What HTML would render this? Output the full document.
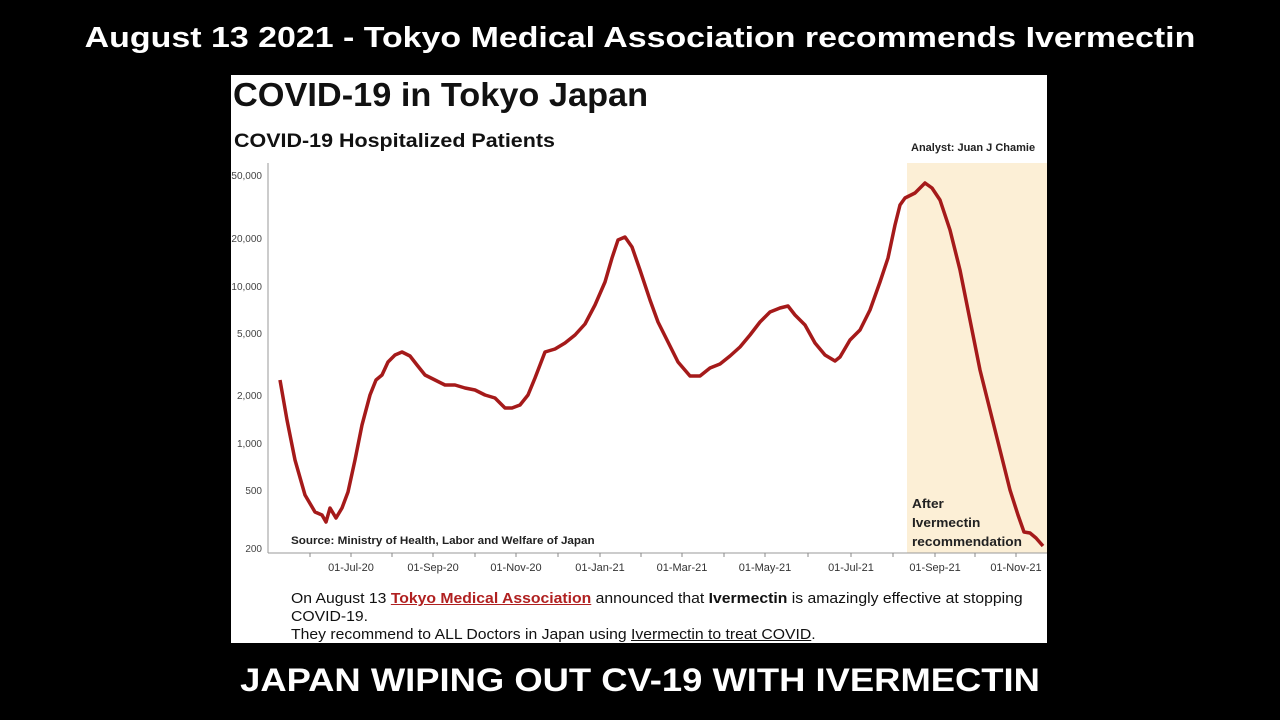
<!DOCTYPE html>
<html><head><meta charset="utf-8"><style>
body{margin:0;width:1280px;height:720px;background:#000;overflow:hidden;font-family:"Liberation Sans",sans-serif;position:relative}
.t{position:absolute;white-space:nowrap}
</style></head><body>
<div class="t" style="left:0;width:1280px;text-align:center;top:22px;color:#fff;font-weight:bold;font-size:29px;transform:scaleX(1.17);transform-origin:640px 0">August 13 2021 - Tokyo Medical Association recommends Ivermectin</div>
<div style="position:absolute;left:231px;top:75px;width:816px;height:568px;background:#fff"></div>
<svg width="1280" height="720" style="position:absolute;left:0;top:0">
<rect x="907" y="163" width="140" height="390" fill="#fcefd6"/>
<line x1="268" y1="163" x2="268" y2="553" stroke="#999" stroke-width="1"/>
<line x1="268" y1="553" x2="1047" y2="553" stroke="#999" stroke-width="1"/>
<g stroke="#888" stroke-width="1">
<line x1="310" y1="553" x2="310" y2="557"/><line x1="351" y1="553" x2="351" y2="557"/><line x1="392" y1="553" x2="392" y2="557"/><line x1="433" y1="553" x2="433" y2="557"/><line x1="475" y1="553" x2="475" y2="557"/><line x1="516" y1="553" x2="516" y2="557"/><line x1="558" y1="553" x2="558" y2="557"/><line x1="600" y1="553" x2="600" y2="557"/><line x1="641" y1="553" x2="641" y2="557"/><line x1="682" y1="553" x2="682" y2="557"/><line x1="724" y1="553" x2="724" y2="557"/><line x1="765" y1="553" x2="765" y2="557"/><line x1="808" y1="553" x2="808" y2="557"/><line x1="851" y1="553" x2="851" y2="557"/><line x1="893" y1="553" x2="893" y2="557"/><line x1="935" y1="553" x2="935" y2="557"/><line x1="975" y1="553" x2="975" y2="557"/><line x1="1016" y1="553" x2="1016" y2="557"/>
</g>
<g font-family="Liberation Sans,sans-serif" font-size="10" fill="#444" text-anchor="end">
<text x="262" y="179">50,000</text><text x="262" y="242">20,000</text><text x="262" y="290">10,000</text><text x="262" y="337">5,000</text><text x="262" y="399">2,000</text><text x="262" y="447">1,000</text><text x="262" y="494">500</text><text x="262" y="552">200</text>
</g>
<g font-family="Liberation Sans,sans-serif" font-size="11" fill="#333" text-anchor="middle">
<text x="351" y="571">01-Jul-20</text><text x="433" y="571">01-Sep-20</text><text x="516" y="571">01-Nov-20</text><text x="600" y="571">01-Jan-21</text><text x="682" y="571">01-Mar-21</text><text x="765" y="571">01-May-21</text><text x="851" y="571">01-Jul-21</text><text x="935" y="571">01-Sep-21</text><text x="1016" y="571">01-Nov-21</text>
</g>
<polyline fill="none" stroke="#a51a1a" stroke-width="3.5" stroke-linejoin="round" points="280,380 287,420 295,460 305,495 315,512 322,515 326,522 330,508 336,518 342,508 348,492 355,460 362,425 370,395 376,380 382,375 388,362 395,355 402,352 410,356 417,365 425,375 435,380 445,385 455,385 465,388 475,390 485,395 495,398 505,408 512,408 520,405 528,395 535,378 545,352 555,349 565,343 575,335 585,324 595,305 605,282 612,258 618,240 625,237 632,247 640,270 650,300 658,322 668,342 678,362 690,376 700,376 710,368 720,364 730,356 740,347 750,335 760,322 770,312 780,308 788,306 795,315 805,325 815,343 825,355 835,361 840,357 850,340 860,330 870,310 880,282 888,258 895,225 900,205 905,198 915,193 925,183 932,188 940,200 950,230 960,270 970,320 980,370 990,410 1000,450 1010,490 1018,515 1024,532 1030,533 1036,538 1043,546"/>
</svg>
<div class="t" style="left:233px;top:76px;font-size:33px;font-weight:bold;color:#111;transform:scaleX(1.04);transform-origin:0 0">COVID-19 in Tokyo Japan</div>
<div class="t" style="left:234px;top:131px;font-size:19px;font-weight:bold;color:#111;transform:scaleX(1.13);transform-origin:0 0">COVID-19 Hospitalized Patients</div>
<div class="t" style="left:911px;top:142px;font-size:11px;font-weight:bold;color:#222">Analyst: Juan J Chamie</div>
<div class="t" style="left:291px;top:535px;font-size:11px;font-weight:bold;color:#222;transform:scaleX(1.06);transform-origin:0 0">Source: Ministry of Health, Labor and Welfare of Japan</div>
<div class="t" style="left:912px;top:494px;font-size:13px;font-weight:bold;color:#222;line-height:19px;transform:scaleX(1.05);transform-origin:0 0">After<br>Ivermectin<br>recommendation</div>
<div class="t" style="left:291px;top:590px;font-size:15px;color:#111;line-height:18px;transform:scaleX(1.05);transform-origin:0 0">On August 13 <span style="color:#b02020;font-weight:bold;text-decoration:underline">Tokyo Medical Association</span> announced that <b>Ivermectin</b> is amazingly effective at stopping<br>COVID-19.<br>They recommend to ALL Doctors in Japan using <u>Ivermectin to treat COVID</u>.</div>
<div class="t" style="left:0;width:1280px;text-align:center;top:662px;color:#fff;font-weight:bold;font-size:32px;transform:scaleX(1.137);transform-origin:640px 0">JAPAN WIPING OUT CV-19 WITH IVERMECTIN</div>
</body></html>
